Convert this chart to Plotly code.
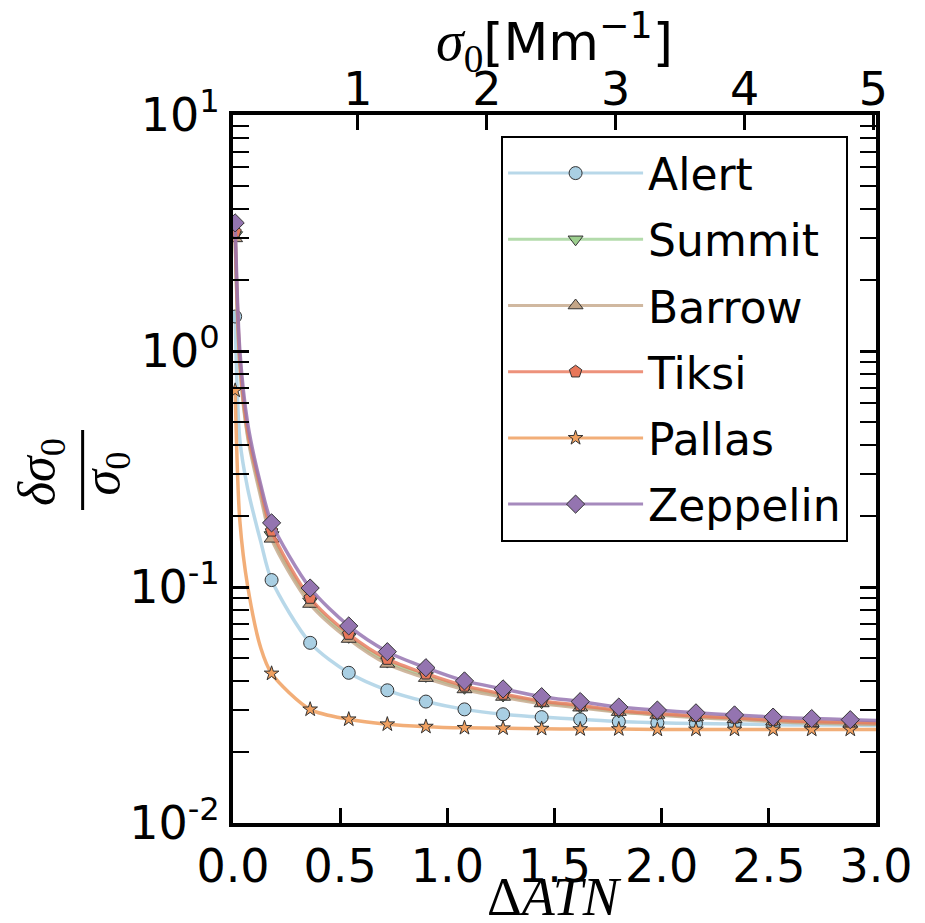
import plotly.graph_objects as go

# ---------------- data ----------------
ATN_MARKERS = [0.01, 0.18, 0.36, 0.54, 0.72, 0.90, 1.08, 1.26, 1.44, 1.62,
               1.80, 1.98, 2.16, 2.34, 2.52, 2.70, 2.88]
ATN_EARLY = [0.032, 0.069, 0.13]   # extra points along the steep start of the curves
ATN_END = 3.0

STATIONS = ["Alert", "Summit", "Barrow", "Tiksi", "Pallas", "Zeppelin"]

ALERT = [1.4, 0.107, 0.058, 0.0433, 0.0365, 0.0327, 0.0303, 0.0289, 0.0281, 0.0275,
         0.0269, 0.0266, 0.0264, 0.0263, 0.0261, 0.0260, 0.0260]
SUMMIT = [3.1, 0.166, 0.087, 0.0615, 0.0483, 0.0420, 0.0374, 0.0347, 0.0325, 0.0311,
          0.0297, 0.0289, 0.0282, 0.0277, 0.0271, 0.0267, 0.0265]
BARROW = [3.0, 0.160, 0.0847, 0.0602, 0.0472, 0.0411, 0.0368, 0.0342, 0.0321, 0.0308,
          0.0295, 0.0287, 0.0280, 0.0275, 0.0269, 0.0265, 0.0263]
TIKSI = [3.2, 0.173, 0.0898, 0.0632, 0.0495, 0.0429, 0.0381, 0.0352, 0.0329, 0.0315,
         0.0300, 0.0291, 0.0284, 0.0279, 0.0273, 0.0269, 0.0267]
PALLAS = [0.68, 0.043, 0.0303, 0.0275, 0.0262, 0.0256, 0.0253, 0.0252, 0.0251, 0.0250,
          0.0250, 0.0249, 0.0249, 0.0249, 0.0249, 0.0249, 0.0249]
ZEPPELIN = [3.49, 0.187, 0.099, 0.0684, 0.0532, 0.0455, 0.0400, 0.0370, 0.0343, 0.0327,
            0.0310, 0.0301, 0.0293, 0.0287, 0.0281, 0.0277, 0.0274]

ALERT_EARLY = [0.42, 0.26, 0.155]
SUMMIT_EARLY = [0.89, 0.44, 0.25]
BARROW_EARLY = [0.86, 0.43, 0.24]
TIKSI_EARLY = [0.93, 0.455, 0.26]
PALLAS_EARLY = [0.19, 0.10, 0.055]
ZEPPELIN_EARLY = [1.0, 0.49, 0.27]

ALERT_END = 0.0259
SUMMIT_END = 0.0263
BARROW_END = 0.0262
TIKSI_END = 0.0265
PALLAS_END = 0.0249
ZEPPELIN_END = 0.0272

SIGMA_RANGE = [0.03, 5.02]          # top axis sigma_0 [Mm^-1] spanning the same width
SIGMA_TICKS = [1, 2, 3, 4, 5]
X_TICKS = [0.0, 0.5, 1.0, 1.5, 2.0, 2.5, 3.0]
Y_TICKS = [0.01, 0.1, 1, 10]
Y_TICKTEXT = ["10<sup>-2</sup>", "10<sup>-1</sup>", "10<sup>0</sup>", "10<sup>1</sup>"]

# ---------------- style ----------------
SERIES = [
    ("Alert", ALERT, ALERT_EARLY, ALERT_END, "circle", 13, "#a9cfe3", "rgba(166,206,227,0.8)"),
    ("Summit", SUMMIT, SUMMIT_EARLY, SUMMIT_END, "triangle-down", 13, "#9ccf8e", "rgba(160,210,150,0.8)"),
    ("Barrow", BARROW, BARROW_EARLY, BARROW_END, "triangle-up", 13, "#c4a688", "rgba(196,166,136,0.8)"),
    ("Tiksi", TIKSI, TIKSI_EARLY, TIKSI_END, "pentagon", 13, "#e8775a", "rgba(232,119,90,0.8)"),
    ("Pallas", PALLAS, PALLAS_EARLY, PALLAS_END, "star", 11, "#f0a060", "rgba(240,160,96,0.85)"),
    ("Zeppelin", ZEPPELIN, ZEPPELIN_EARLY, ZEPPELIN_END, "diamond", 14, "#9474b0", "rgba(150,118,178,0.85)"),
]

SANS = "DejaVu Sans"
SERIF = "Liberation Serif"
FS = 46

fig = go.Figure()

for name, vals, early, end, sym, msize, mcol, lcol in SERIES:
    lx = [ATN_MARKERS[0]] + ATN_EARLY + ATN_MARKERS[1:] + [ATN_END]
    ly = [vals[0]] + early + vals[1:] + [end]
    fig.add_trace(go.Scatter(
        x=lx, y=ly, mode="lines", line=dict(color=lcol, width=3.5, shape="spline", smoothing=0.8),
        showlegend=False, hoverinfo="skip", legendgroup=name))
    fig.add_trace(go.Scatter(
        x=ATN_MARKERS, y=vals, mode="markers",
        marker=dict(symbol=sym, size=msize, color=mcol, line=dict(color="#333333", width=1)),
        showlegend=False, name=name, legendgroup=name))
    # legend entry (no data points)
    fig.add_trace(go.Scatter(
        x=[None], y=[None], mode="lines+markers", name=name, legendgroup=name,
        line=dict(color=lcol, width=3),
        marker=dict(symbol=sym, size=msize, color=mcol, line=dict(color="#333333", width=1))))

# invisible trace so the top sigma_0 axis is drawn
fig.add_trace(go.Scatter(x=SIGMA_RANGE, y=[1, 1], xaxis="x2", mode="markers",
                         marker=dict(opacity=0), showlegend=False, hoverinfo="skip"))

OFF = 8  # page body margin
PLOT_L, PLOT_R, PLOT_T, PLOT_B = 233, 883, 115, 823   # plot area in page pixels
W, H = 925 - OFF, 923 - 2 * OFF
L, T = PLOT_L - OFF, PLOT_T - OFF
R, B = W - (PLOT_R - OFF), H - (PLOT_B - OFF)
PW, PH = W - L - R, H - T - B


def px(xp):
    # page x pixel -> paper coordinate
    return (xp - OFF - L) / PW


def py(yp):
    # page y pixel -> paper coordinate
    return (H - B - (yp - OFF)) / PH


fig.update_layout(
    width=W, height=H,
    margin=dict(l=L, r=R, t=T, b=B),
    paper_bgcolor="white", plot_bgcolor="white",
    font=dict(family=SANS, size=FS, color="black"),
    showlegend=True,
    legend=dict(x=px(504), y=py(136), xanchor="left", yanchor="top",
                bordercolor="black", borderwidth=2, bgcolor="white",
                font=dict(family=SANS, size=44), itemwidth=135,
                traceorder="grouped", tracegroupgap=6),
    xaxis=dict(range=[0, 3], tickvals=X_TICKS, tickformat=".1f",
               ticks="inside", ticklen=15, tickwidth=3, tickcolor="black",
               showline=True, linewidth=4, linecolor="black", mirror=True,
               showgrid=False, zeroline=False,
               tickfont=dict(family=SANS, size=FS)),
    xaxis2=dict(range=SIGMA_RANGE, tickvals=SIGMA_TICKS, overlaying="x", side="top",
                ticks="inside", ticklen=15, tickwidth=3, tickcolor="black",
                showline=False, showgrid=False, zeroline=False,
                tickfont=dict(family=SANS, size=FS)),
    yaxis=dict(type="log", range=[-2, 1], tickvals=Y_TICKS, ticktext=Y_TICKTEXT,
               ticks="inside", ticklen=16, tickwidth=3, tickcolor="black",
               minor=dict(ticks="inside", ticklen=8, tickwidth=2, tickcolor="black", dtick="D1"),
               showline=True, linewidth=4, linecolor="black", mirror="allticks",
               showgrid=False, zeroline=False,
               tickfont=dict(family=SANS, size=FS)),
    annotations=[
        dict(xref="paper", yref="paper", x=0.5, y=py(42), xanchor="center", yanchor="middle",
             showarrow=False,
             text='<span style="font-family:Liberation Serif;font-size:56px"><i>σ</i><sub>0</sub></span>[Mm<sup>−1</sup>]',
             font=dict(family=SANS, size=52)),
        dict(xref="paper", yref="paper", x=0.5, y=py(897), xanchor="center", yanchor="middle",
             showarrow=False, text="Δ<i>ATN</i>", font=dict(family=SERIF, size=54)),
        dict(xref="paper", yref="paper", x=px(38), y=py(472), xanchor="center", yanchor="middle",
             showarrow=False, textangle=-90, text="<i>δσ</i><sub>0</sub>",
             font=dict(family=SERIF, size=52)),
        dict(xref="paper", yref="paper", x=px(104), y=py(473), xanchor="center", yanchor="middle",
             showarrow=False, textangle=-90, text="<i>σ</i><sub>0</sub>",
             font=dict(family=SERIF, size=52)),
    ],
    shapes=[
        dict(type="line", xref="paper", yref="paper", x0=px(81), x1=px(81), y0=py(430), y1=py(510),
             line=dict(color="black", width=3)),
    ],
)

fig.write_html("out.html")
